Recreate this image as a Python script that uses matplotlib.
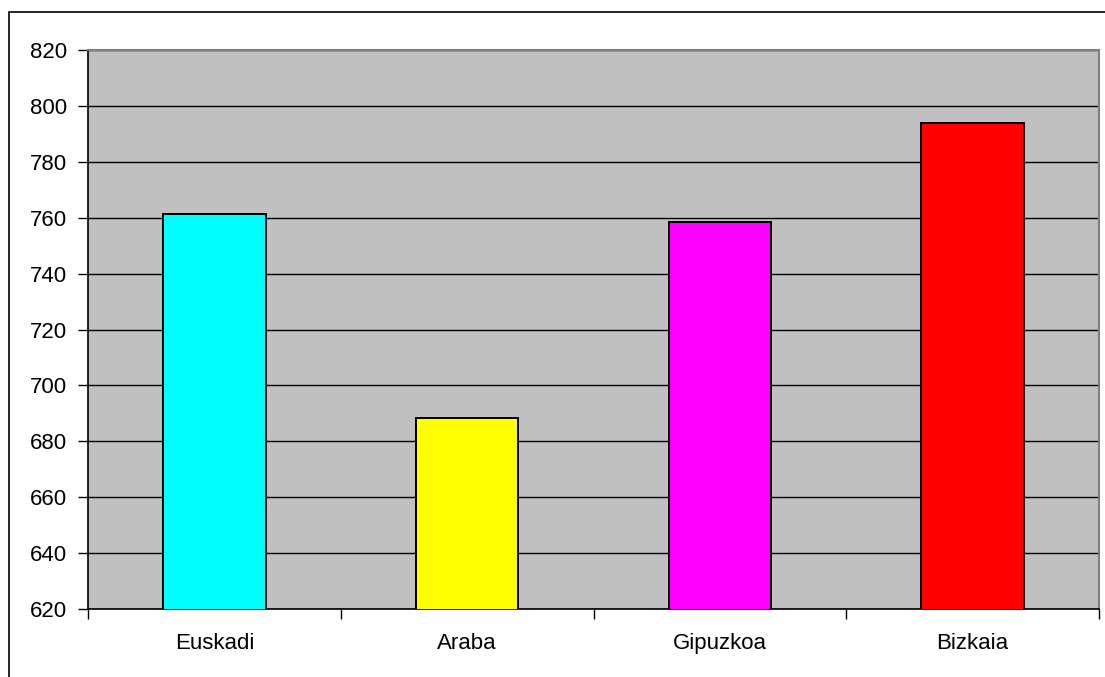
import matplotlib.pyplot as plt
from matplotlib.patches import Rectangle

categories = ["Euskadi", "Araba", "Gipuzkoa", "Bizkaia"]
values = [761.5, 688.2, 758.3, 794.0]
colors = ["#00FFFF", "#FFFF00", "#FF00FF", "#FF0000"]
yticks = list(range(620, 821, 20))

plt.rcParams["font.family"] = ["Liberation Sans", "DejaVu Sans"]

fig = plt.figure(figsize=(11.05, 6.77), dpi=100)
ax = fig.add_axes([88 / 1105, 68 / 677, 1011 / 1105, 559 / 677])

# outer chart frame (right and bottom edges fall outside the image)
fig.patches.append(Rectangle((8.5 / 1105, -0.05), 1.2, 1 - 12 / 677 + 0.05,
                             transform=fig.transFigure, fill=False,
                             edgecolor="black", linewidth=1.2))

ax.set_facecolor("#C0C0C0")
x = list(range(len(categories)))
ax.bar(x, values, width=0.405, color=colors, edgecolor="black",
       linewidth=1.4, zorder=3)

ax.set_ylim(620, 820)
ax.set_xlim(-0.5, len(categories) - 0.5)
ax.set_yticks(yticks)
ax.yaxis.grid(True, color="black", linewidth=1.0, zorder=1)
ax.set_axisbelow(True)

ax.set_xticks([i + 0.5 for i in range(-1, len(categories))])
ax.set_xticklabels([])
ax.set_xticks(x, minor=True)
ax.set_xticklabels(categories, minor=True)
ax.tick_params(axis="x", which="major", length=7, width=1, direction="out")
ax.tick_params(axis="x", which="minor", length=0, pad=17, labelsize=16)
ax.tick_params(axis="y", length=7, width=1, direction="out", pad=8,
               labelsize=16)

for side in ["left", "bottom"]:
    ax.spines[side].set_color("black")
    ax.spines[side].set_linewidth(1.2)
for side in ["top", "right"]:
    ax.spines[side].set_color("#808080")
    ax.spines[side].set_linewidth(1.5)

fig.savefig("out.png", dpi=100)
